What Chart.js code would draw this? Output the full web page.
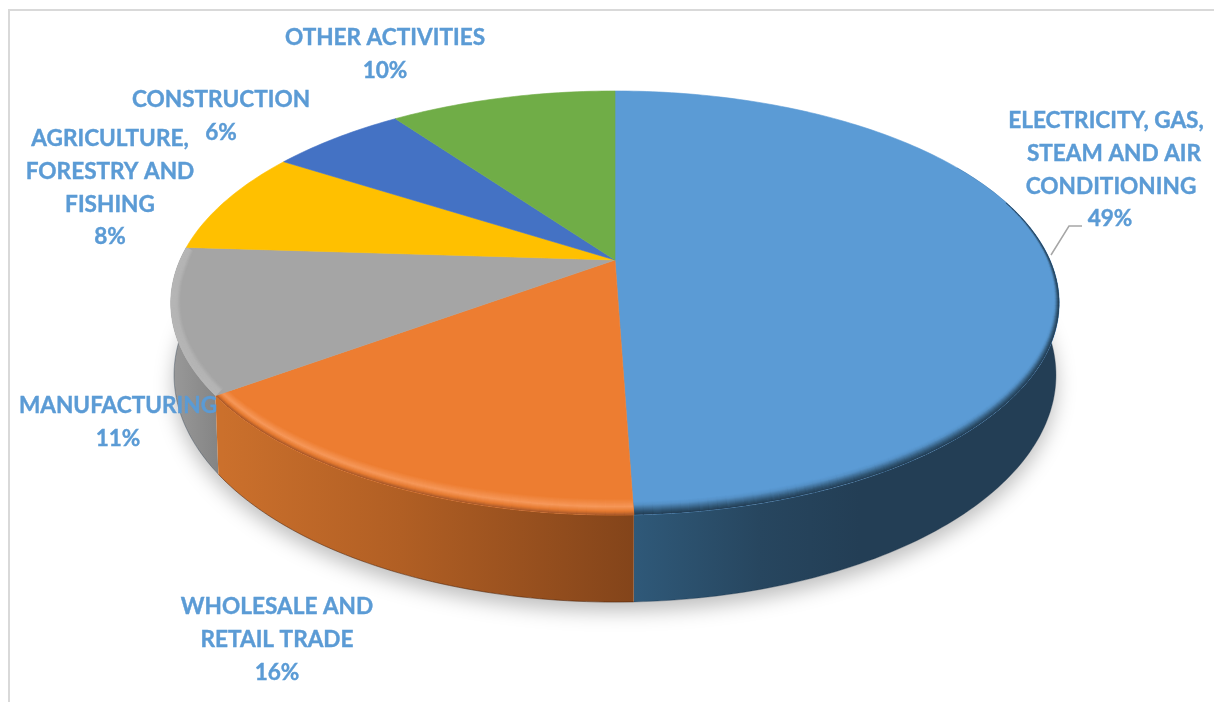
<!DOCTYPE html>
<html>
<head>
<meta charset="utf-8">
<title>Sector shares</title>
<script src="https://cdn.jsdelivr.net/npm/chart.js@4"></script>
<style>
    html, body { margin: 0; padding: 0; background: #fff; }
    canvas { display: block; }
</style>
</head>
<body>
<canvas id="chart" width="1214" height="702"></canvas>
<script>
const categories = [
    'Electricity, gas, steam and air conditioning',
    'Wholesale and retail trade',
    'Manufacturing',
    'Agriculture, forestry and fishing',
    'Construction',
    'Other activities'
];
const values = [49.45, 15.55, 11, 8, 6, 10];
const labelLines = [
    ['ELECTRICITY, GAS,', 'STEAM AND AIR', 'CONDITIONING'],
    ['WHOLESALE AND', 'RETAIL TRADE'],
    ['MANUFACTURING'],
    ['AGRICULTURE,', 'FORESTRY AND', 'FISHING'],
    ['CONSTRUCTION'],
    ['OTHER ACTIVITIES']
];

// look of the slices
const topColors = ['#5b9bd5', '#ed7d31', '#a5a5a5', '#ffc000', '#4472c4', '#70ad47'];
const labelColor = '#5b9bd5';
const labelPlaces = [[1110, 121], [277, 607], [118, 406], [110, 139], [221, 100], [385, 38]];
// first label is not centred line by line in the picture
const lineNudges = { 0: [-4, 4, 1, 0] };

// side wall colours, left to right on screen
const sideStops = {
    0: [[633, '#2f5979'], [760, '#27465f'], [860, '#233e55'], [1060, '#233e55']],
    1: [[222, '#cb702c'], [400, '#b15f24'], [634, '#83441a']],
    2: [[170, '#9a9a9a'], [228, '#808080']]
};
// bevel along the front rim: [position across the band, colour]
const rims = {
    0: { min: 3, extra: 10, stops: [[0, '#233e55'], [0.25, '#2f5472'], [0.75, '#5591c7'], [1, '#5b9bd5']] },
    1: { min: 8, extra: 8, stops: [[0, '#a9592a'], [0.22, '#e57a30'], [0.5, '#f6985a'], [1, '#ed7d31']] },
    2: { min: 9, extra: 3, stops: [[0, '#b6b6b6'], [0.6, '#b4b4b4'], [1, '#a5a5a5']] }
};

// perspective of the disc, relative to the radius chart.js gives the pie
const tilt = -0.2028;
const topScaleX = 435 / 260;
const topScaleY = 203.3 / 260;
const bottomShiftY = 69;
const bottomScaleX = 431.8 / 260;
const bottomScaleY = 217.7 / 260;

const rad = Math.PI / 180;

function project(arc, angle, bottom) {
    const x = Math.cos(angle);
    const y = Math.sin(angle);
    const w = 1 + tilt * y;
    const sx = bottom ? bottomScaleX : topScaleX;
    const sy = bottom ? bottomScaleY : topScaleY;
    return {
        x: arc.x + arc.outerRadius * sx * x / w,
        y: arc.y + (bottom ? bottomShiftY : 0) + arc.outerRadius * sy * y / w
    };
}

function anglesBetween(a, b) {
    const list = [];
    const steps = Math.max(2, Math.ceil((b - a) / rad));
    for (let i = 0; i <= steps; i++) list.push(a + (b - a) * i / steps);
    return list;
}

function hexToRgb(hex) {
    return [1, 3, 5].map(i => parseInt(hex.substr(i, 2), 16));
}

function colorAt(stops, u) {
    for (let i = 1; i < stops.length; i++) {
        if (u <= stops[i][0]) {
            const t = (u - stops[i - 1][0]) / (stops[i][0] - stops[i - 1][0]);
            const a = hexToRgb(stops[i - 1][1]);
            const b = hexToRgb(stops[i][1]);
            return 'rgb(' + a.map((v, k) => Math.round(v + (b[k] - v) * t)).join(',') + ')';
        }
    }
    return stops[stops.length - 1][1];
}

function drawShadow(ctx, arc) {
    ctx.save();
    ctx.shadowColor = 'rgba(0,0,0,0.26)';
    ctx.shadowBlur = 20;
    ctx.shadowOffsetY = 9;
    ctx.fillStyle = '#fff';
    ctx.beginPath();
    anglesBetween(0, Math.PI * 2).forEach(a => {
        const p = project(arc, a, true);
        ctx.lineTo(p.x, p.y);
    });
    ctx.closePath();
    ctx.fill();
    ctx.restore();
}

function drawSide(ctx, arc, index) {
    const stops = sideStops[index];
    // only the part of the wall that faces the viewer
    const a = index === 0 ? Math.max(arc.startAngle, -30 * rad) : arc.startAngle;
    const b = arc.endAngle;
    const grad = ctx.createLinearGradient(stops[0][0], 0, stops[stops.length - 1][0], 0);
    const span = stops[stops.length - 1][0] - stops[0][0];
    stops.forEach(s => grad.addColorStop((s[0] - stops[0][0]) / span, s[1]));
    const angles = anglesBetween(a, b);
    ctx.fillStyle = grad;
    ctx.beginPath();
    angles.forEach(t => {
        const p = project(arc, t, false);
        ctx.lineTo(p.x, p.y);
    });
    angles.slice().reverse().forEach(t => {
        const p = project(arc, t, true);
        ctx.lineTo(p.x, p.y);
    });
    ctx.closePath();
    ctx.fill();
    // darker hairline where the wall meets the floor
    ctx.strokeStyle = index === 1 ? 'rgba(70,30,5,0.55)' : 'rgba(20,40,60,0.35)';
    ctx.lineWidth = 1;
    ctx.beginPath();
    angles.forEach(t => {
        const p = project(arc, t, true);
        ctx.lineTo(p.x, p.y);
    });
    ctx.stroke();
}

function wedgePath(ctx, arc) {
    ctx.beginPath();
    ctx.moveTo(arc.x, arc.y);
    anglesBetween(arc.startAngle, arc.endAngle).forEach(t => {
        const p = project(arc, t, false);
        ctx.lineTo(p.x, p.y);
    });
    ctx.closePath();
}

function rimWidth(rim, angle) {
    const y = Math.sin(angle);
    const fade = Math.min(1, Math.max(0, (y + 0.4) / 0.4));
    return rim.min * fade + rim.extra * Math.max(0, y);
}

function drawRim(ctx, arc, rim) {
    const angles = anglesBetween(arc.startAngle, arc.endAngle);
    const widest = rim.min + rim.extra;
    ctx.save();
    wedgePath(ctx, arc);
    ctx.clip();
    ctx.lineWidth = 1.6;
    for (let d = widest; d >= 0; d -= 1) {
        for (let i = 1; i < angles.length; i++) {
            const a0 = angles[i - 1];
            const a1 = angles[i];
            const w = rimWidth(rim, (a0 + a1) / 2);
            if (w < 0.8 || d > w) continue;
            const p0 = project(arc, a0, false);
            const p1 = project(arc, a1, false);
            const tx = p1.x - p0.x;
            const ty = p1.y - p0.y;
            const len = Math.hypot(tx, ty) || 1;
            const nx = -ty / len;
            const ny = tx / len;
            ctx.strokeStyle = colorAt(rim.stops, d / w);
            ctx.beginPath();
            ctx.moveTo(p0.x + nx * d - tx * 0.05, p0.y + ny * d - ty * 0.05);
            ctx.lineTo(p1.x + nx * d + tx * 0.05, p1.y + ny * d + ty * 0.05);
            ctx.stroke();
        }
    }
    ctx.restore();
}

const discPlugin = {
    id: 'disc',
    beforeDraw(chart) {
        const ctx = chart.ctx;
        ctx.save();
        ctx.fillStyle = '#d9d9d9';
        ctx.fillRect(8, 9, 1206, 2);
        ctx.fillRect(8, 9, 2, 693);
        ctx.restore();
    },
    beforeDatasetsDraw(chart) {
        const ctx = chart.ctx;
        const arcs = chart.getDatasetMeta(0).data;
        drawShadow(ctx, arcs[0]);
        [2, 0, 1].forEach(i => drawSide(ctx, arcs[i], i));
        arcs.forEach((arc, i) => {
            wedgePath(ctx, arc);
            ctx.fillStyle = topColors[i];
            ctx.strokeStyle = topColors[i];
            ctx.lineWidth = 0.6;
            ctx.fill();
            ctx.stroke();
            if (rims[i]) drawRim(ctx, arc, rims[i]);
        });
        return false;
    },
    afterDraw(chart) {
        const ctx = chart.ctx;
        // leader line of the biggest slice
        ctx.save();
        ctx.strokeStyle = '#a6a6a6';
        ctx.lineWidth = 1.5;
        ctx.beginPath();
        ctx.moveTo(1051, 255);
        ctx.lineTo(1069, 226);
        ctx.lineTo(1082, 226);
        ctx.stroke();

        ctx.fillStyle = labelColor;
        ctx.strokeStyle = labelColor;
        ctx.lineWidth = 0.4;
        ctx.font = 'bold 22.6px Lato';
        ctx.textAlign = 'center';
        ctx.textBaseline = 'middle';
        labelLines.forEach((lines, i) => {
            const nudge = lineNudges[i] || [];
            let y = labelPlaces[i][1];
            lines.concat(Math.round(values[i]) + '%').forEach((line, n) => {
                const x = labelPlaces[i][0] + (nudge[n] || 0);
                ctx.fillText(line, x, y);
                ctx.strokeText(line, x, y);
                y += 32.7;
            });
        });
        ctx.restore();
    }
};

new Chart(document.getElementById('chart'), {
    type: 'pie',
    data: {
        labels: categories,
        datasets: [{
            data: values,
            backgroundColor: topColors,
            borderWidth: 0
        }]
    },
    options: {
        responsive: false,
        animation: false,
        layout: { padding: { left: 16, bottom: 182 } },
        plugins: {
            legend: { display: false },
            tooltip: { enabled: false }
        }
    },
    plugins: [discPlugin]
});
</script>
</body>
</html>
